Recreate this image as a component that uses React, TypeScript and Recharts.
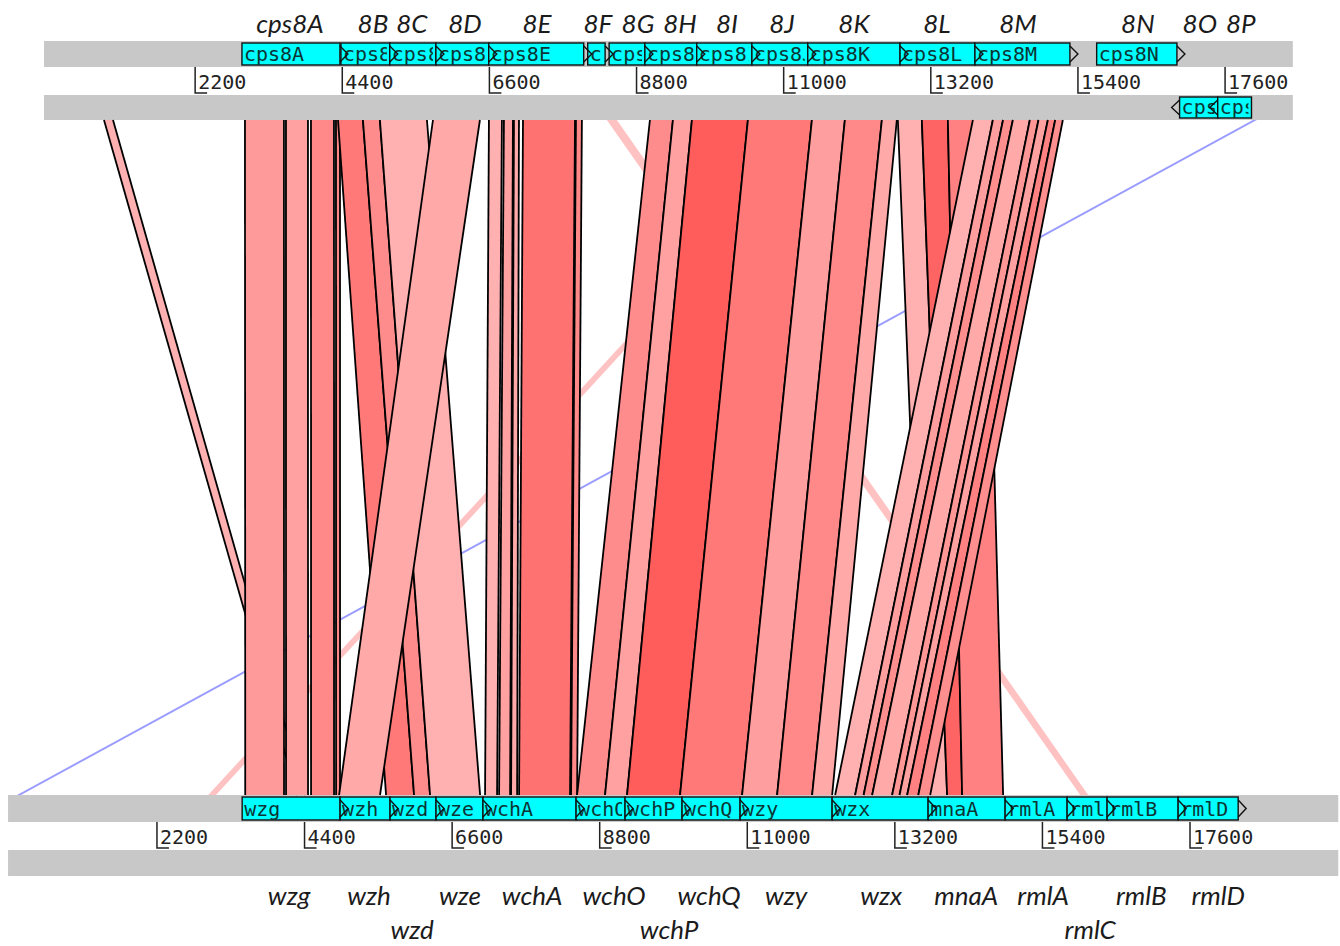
import { Area, ComposedChart, ReferenceArea, ReferenceDot, XAxis, YAxis } from 'recharts'

// [top start, top end, bottom start, bottom end, % identity]
type Match = [number, number, number, number, number]

// the top sequence is drawn against the bottom sequence axis, with ACT's offset
const TOP_OFFSET = 575.6
const TOP_STRETCH = 0.997
const onTopAxis = (bp: number) => bp * TOP_STRETCH + TOP_OFFSET

const tickValues = [2200, 4400, 6600, 8800, 11000, 13200, 15400, 17600]

const topSequence = [-60, 18613]
const bottomSequence = [-20, 19810]

const topGeneNames = ['cps8A', 'cps8B', 'cps8C', 'cps8D', 'cps8E', 'cps8F', 'cps8G', 'cps8H', 'cps8I', 'cps8J', 'cps8K', 'cps8L', 'cps8M', 'cps8N']
const topGeneStarts = [2900, 4380, 5110, 5800, 6590, 8070, 8390, 8925, 9700, 10525, 11360, 12740, 13860, 15680]
const topGeneEnds = [4365, 5110, 5800, 6590, 8010, 8330, 8925, 9700, 10525, 11360, 12740, 13860, 15280, 16880]

const topReverseNames = ['cps8O', 'cps8P']
const topReverseStarts = [16920, 17490]
const topReverseEnds = [17490, 17995]

const bottomGeneNames = ['wzg', 'wzh', 'wzd', 'wze', 'wchA', 'wchO', 'wchP', 'wchQ', 'wzy', 'wzx', 'mnaA', 'rmlA', 'rmlC', 'rmlB', 'rmlD']
const bottomGeneStarts = [3470, 4930, 5675, 6360, 7060, 8448, 9178, 10028, 10893, 12265, 13696, 14844, 15768, 16364, 17423]
const bottomGeneEnds = [4930, 5675, 6360, 7060, 8448, 9178, 10028, 10893, 12265, 13696, 14844, 15768, 16364, 17423, 18318]

const topLabels = ['cps8A', '8B', '8C', '8D', '8E', '8F', '8G', '8H', '8I', '8J', '8K', '8L', '8M', '8N', '8O', '8P']
const topLabelPos = [3618, 4859, 5442, 6234, 7311, 8223, 8821, 9449, 10151, 10974, 12050, 13291, 14502, 16296, 17222, 17835]

const bottomLabels = ['wzg', 'wzh', 'wzd', 'wze', 'wchA', 'wchO', 'wchP', 'wchQ', 'wzy', 'wzx', 'mnaA', 'rmlA', 'rmlC', 'rmlB', 'rmlD']
const bottomLabelPos = [4169, 5362, 6003, 6718, 7792, 9015, 9835, 10431, 11580, 12996, 14263, 15411, 16112, 16873, 18020]
const bottomLabelRow = [0, 0, 1, 0, 0, 0, 1, 0, 0, 0, 0, 0, 1, 0, 0]

const faintMatches: Match[] = [
  [8356, 8506, 15963, 16082, 70],
  [11661, 11781, 2964, 3080, 70],
]

const invertedMatches: Match[] = [
  [18015, 18075, 113, 173, 70],
]

const directMatches: Match[] = [
  [837, 972, 4288, 4407, 75],
  // wzg
  [2945, 3528, 3516, 4094, 81],
  [3558, 3887, 4124, 4452, 79],
  [3932, 4276, 4497, 4840, 86],
  [4306, 4366, 4870, 4929, 86],
  // wzh / wzd / wze crossing
  [4336, 4709, 5615, 6033, 90],
  [4709, 4963, 6033, 6271, 85],
  [4963, 5666, 6271, 7017, 75],
  [5756, 6458, 4915, 5525, 77],
  // wchA
  [6593, 6787, 7091, 7270, 75],
  [6817, 6952, 7300, 7464, 79],
  [6967, 7042, 7479, 7569, 77],
  [7102, 7880, 7598, 8358, 92],
  [7894, 7983, 8373, 8463, 86],
  // wchO .. wzy
  [9000, 9344, 8463, 8880, 85],
  [9344, 9628, 8880, 9208, 79],
  [9628, 10465, 9208, 9998, 98],
  [10465, 11422, 9998, 10923, 90],
  [11422, 11915, 10923, 11445, 80],
  [11915, 12468, 11445, 11967, 86],
  [12468, 12692, 11967, 12265, 77],
  // mnaA
  [12707, 13066, 13651, 13979, 75],
  [13066, 13455, 13979, 14203, 96],
  [13455, 14008, 14203, 14814, 88],
  // wzx
  [13829, 14128, 12310, 12608, 75],
  [14128, 14280, 12608, 12735, 80],
  [14280, 14427, 12735, 12862, 84],
  [14427, 14681, 12862, 13160, 77],
  [14681, 14810, 13160, 13270, 82],
  [14810, 14950, 13270, 13384, 79],
  [14950, 15060, 13384, 13550, 88],
  [15060, 15174, 13550, 13727, 84],
]

const MATCH_TOP_Y = 120
const MATCH_BOTTOM_Y = 795

const allMatches = [...faintMatches, ...invertedMatches, ...directMatches]
const matchRows = [
  { y: MATCH_BOTTOM_Y, ...Object.fromEntries(allMatches.map((m, i) => [`m${i}`, [m[2], m[3]]])) },
  { y: MATCH_TOP_Y, ...Object.fromEntries(allMatches.map((m, i) => [`m${i}`, [onTopAxis(m[0]), onTopAxis(m[1])]])) },
]

const identityColour = (id: number) => {
  const g = Math.round(Math.min(200, Math.max(70, 176 - (id - 75) * 3.64)))
  const h = g.toString(16).padStart(2, '0')
  return `#ff${h}${h}`
}

const MONO = "'DejaVu Sans Mono', monospace"
const CYAN = '#00ffff'
const GREY = '#c8c8c8'

const geneBox = (name: string) => (p: any) => (
  <g>
    <rect x={p.x} y={p.y} width={p.width} height={p.height} fill={CYAN} stroke="#111" strokeWidth={1.4} />
    <svg x={p.x} y={p.y} width={Math.max(0, p.width - 3)} height={p.height} overflow="hidden">
      <text x={2} y={p.height - 4} fontFamily={MONO} fontSize={20} fill="#0c3434">
        {name}
      </text>
    </svg>
  </g>
)

const geneArrow = (reverse: boolean) => (p: any) => {
  const mid = p.y + p.height / 2
  const base = reverse ? p.x : p.x + p.width
  const tip = reverse ? base - 8 : base + 8
  return (
    <polyline
      points={`${base},${p.y + 3} ${tip},${mid} ${base},${p.y + p.height - 3}`}
      fill="none"
      stroke="#111"
      strokeWidth={1.4}
    />
  )
}

const rulerMark = (label: number) => (p: any) => (
  <g>
    <path d={`M${p.cx},${p.cy} V${p.cy + 26} H${p.cx + 12}`} fill="none" stroke="#222" strokeWidth={1.5} />
    <text x={p.cx + 3} y={p.cy + 22} fontFamily={MONO} fontSize={20} fill="#222">
      {label}
    </text>
  </g>
)

const italicLabel = (label: string) => (p: any) => (
  <text x={p.cx} y={p.cy} textAnchor="middle" fontFamily="Lato, 'Open Sans', sans-serif" fontStyle="italic" fontSize={26} fill="#1b1b1b">
    {label}
  </text>
)

export default function App() {
  return (
    <div style={{ position: 'absolute', left: 0, top: 0, width: 1340, height: 946, background: '#fff' }}>
      <ComposedChart width={1340} height={946} layout="vertical" data={matchRows} margin={{ top: 0, right: 0, bottom: 0, left: 0 }}>
        <XAxis type="number" hide domain={[-140, 19836]} allowDataOverflow />
        <YAxis type="number" dataKey="y" hide domain={[0, 946]} allowDataOverflow />

        {/* sequence tracks */}
        <ReferenceArea x1={onTopAxis(topSequence[0])} x2={onTopAxis(topSequence[1])} y1={41} y2={67} fill={GREY} fillOpacity={1} />
        <ReferenceArea x1={onTopAxis(topSequence[0])} x2={onTopAxis(topSequence[1])} y1={95} y2={120} fill={GREY} fillOpacity={1} />
        <ReferenceArea x1={bottomSequence[0]} x2={bottomSequence[1]} y1={795} y2={822} fill={GREY} fillOpacity={1} />
        <ReferenceArea x1={bottomSequence[0]} x2={bottomSequence[1]} y1={850} y2={876} fill={GREY} fillOpacity={1} />

        {/* genes */}
        {topGeneNames.map((name, i) => (
          <ReferenceArea key={`tg${i}`} x1={onTopAxis(topGeneStarts[i])} x2={onTopAxis(topGeneEnds[i])} y1={43} y2={65} shape={geneBox(name)} />
        ))}
        {topReverseNames.map((name, i) => (
          <ReferenceArea key={`tr${i}`} x1={onTopAxis(topReverseStarts[i])} x2={onTopAxis(topReverseEnds[i])} y1={97} y2={118} shape={geneBox(name)} />
        ))}
        {bottomGeneNames.map((name, i) => (
          <ReferenceArea key={`bg${i}`} x1={bottomGeneStarts[i]} x2={bottomGeneEnds[i]} y1={797} y2={820} shape={geneBox(name)} />
        ))}
        {topGeneNames.map((name, i) => (
          <ReferenceArea key={`ta${i}`} x1={onTopAxis(topGeneStarts[i])} x2={onTopAxis(topGeneEnds[i])} y1={43} y2={65} shape={geneArrow(false)} />
        ))}
        {topReverseNames.map((name, i) => (
          <ReferenceArea key={`ra${i}`} x1={onTopAxis(topReverseStarts[i])} x2={onTopAxis(topReverseEnds[i])} y1={97} y2={118} shape={geneArrow(true)} />
        ))}
        {bottomGeneNames.map((name, i) => (
          <ReferenceArea key={`ba${i}`} x1={bottomGeneStarts[i]} x2={bottomGeneEnds[i]} y1={797} y2={820} shape={geneArrow(false)} />
        ))}

        {/* rulers */}
        {tickValues.map((t) => (
          <ReferenceDot key={`tt${t}`} x={onTopAxis(t)} y={67} r={0} shape={rulerMark(t)} />
        ))}
        {tickValues.map((t) => (
          <ReferenceDot key={`bt${t}`} x={t} y={822} r={0} shape={rulerMark(t)} />
        ))}

        {/* gene names */}
        {topLabels.map((label, i) => (
          <ReferenceDot key={`tl${i}`} x={onTopAxis(topLabelPos[i])} y={33} r={0} shape={italicLabel(label)} />
        ))}
        {bottomLabels.map((label, i) => (
          <ReferenceDot key={`bl${i}`} x={bottomLabelPos[i]} y={bottomLabelRow[i] ? 939 : 905} r={0} shape={italicLabel(label)} />
        ))}

        {/* comparison matches */}
        {allMatches.map((m, i) => {
          const inverted = i >= faintMatches.length && i < faintMatches.length + invertedMatches.length
          const faint = m[4] < 72
          return (
            <Area
              key={`m${i}`}
              dataKey={`m${i}`}
              type="linear"
              fill={inverted ? '#9a9cff' : identityColour(m[4])}
              fillOpacity={1}
              stroke={faint ? 'none' : '#000'}
              strokeWidth={1.8}
              dot={false}
              activeDot={false}
              isAnimationActive={false}
            />
          )
        })}
      </ComposedChart>
    </div>
  )
}
